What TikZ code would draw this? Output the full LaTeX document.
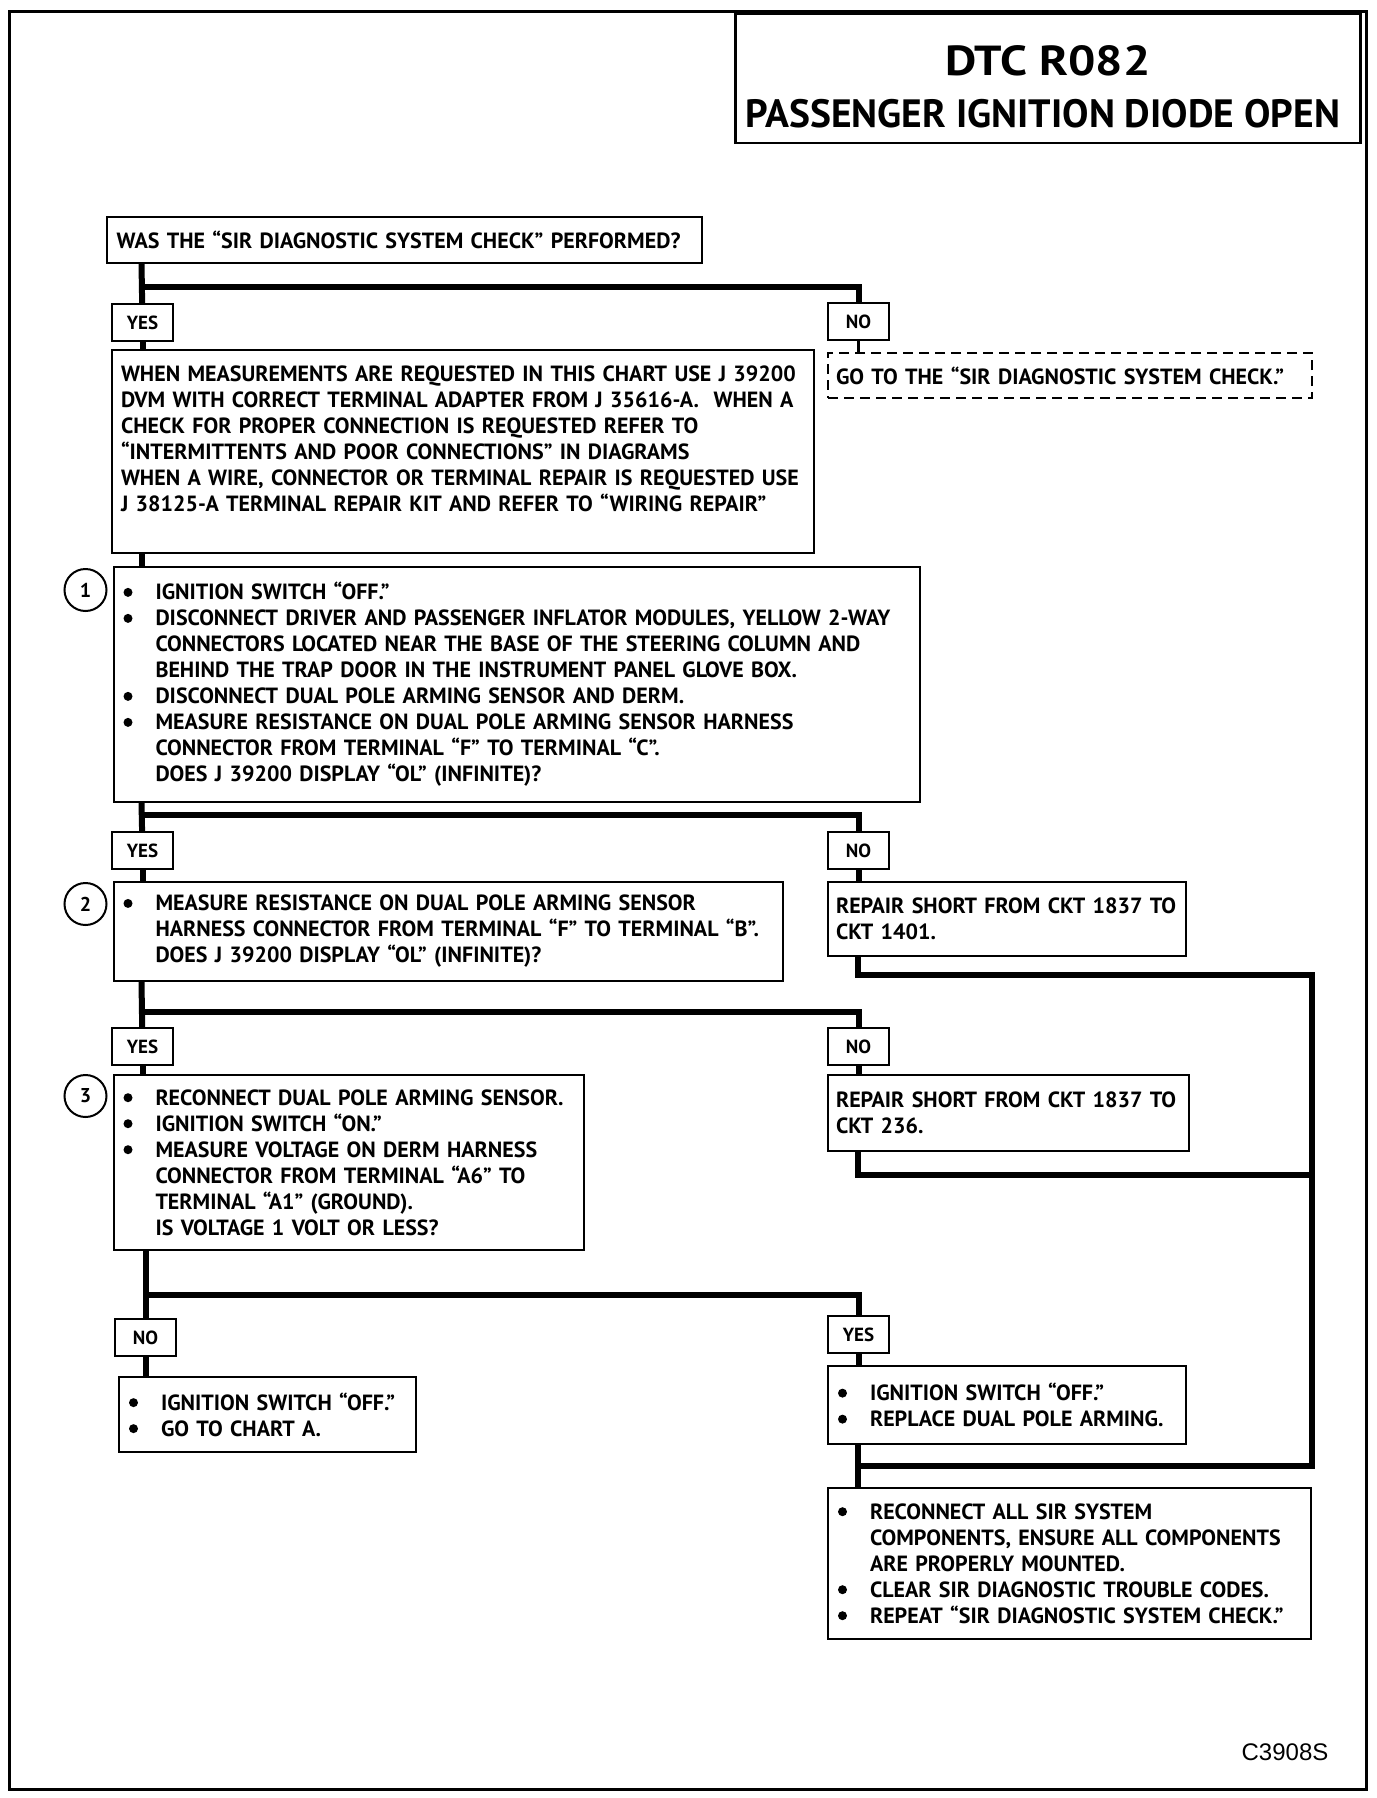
\documentclass[tikz,border=0pt]{standalone}
\usepackage{fontspec}
\setmainfont{PT Sans}
\newfontfamily\widefont{PT Sans}[FakeStretch=1.15]
\newfontfamily\codefont{Liberation Sans}
\usetikzlibrary{positioning}

% bullet lines and their continuation
\newcommand{\bul}{\makebox[32pt][l]{\tikz[baseline=0pt]\fill (3pt,7.5pt) circle (4.5pt);}}
\newcommand{\cont}{\hspace*{32pt}}

\tikzset{
  chart/.style={draw, line width=2pt, rectangle, anchor=north west, align=left,
    inner xsep=10pt, inner ysep=0pt, font=\bfseries\fontsize{22}{26}\selectfont},
  answer/.style={draw, line width=2pt, rectangle, anchor=north west,
    minimum width=61pt, minimum height=37pt, inner sep=0pt,
    font=\bfseries\fontsize{19}{19}\selectfont},
  stepnum/.style={draw, circle, line width=2pt, minimum size=42pt, inner sep=0pt,
    font=\bfseries\fontsize{20}{20}\selectfont},
  flow/.style={line width=6pt},
}

\begin{document}
\begin{tikzpicture}[x=1pt,y=-1pt]
  \useasboundingbox (0,0) rectangle (1376,1798);
  \draw[line width=3pt] (9,12) rectangle (1366,1789);

  % title
  \node[draw, line width=2.5pt, anchor=north west, minimum width=625pt, minimum height=129pt] (title) at (734,13) {};
  \node[font=\widefont\bfseries\fontsize{42}{42}\selectfont] (dtc) at (1048,61) {DTC R082};
  \node[font=\bfseries\fontsize{39.5}{40}\selectfont] (name) at (1043,114) {PASSENGER IGNITION DIODE OPEN};

  % columns and split points
  \coordinate (colL) at (141.5,0);
  \coordinate (colR) at (857.5,0);
  \coordinate (bus) at (1312,0);
  \coordinate (s1) at (0,287);
  \coordinate (s2) at (0,815);
  \coordinate (s3) at (0,1012);
  \coordinate (s4) at (0,1295);
  \coordinate (r1) at (0,975);
  \coordinate (r2) at (0,1175);
  \coordinate (r3) at (0,1466);

  \node[chart, text width=575.5pt, minimum height=46pt] (check) at (105.5,216)
    {WAS THE “SIR DIAGNOSTIC SYSTEM CHECK” PERFORMED?};

  \node[answer] (yes1) at (111,303) {YES};
  \node[answer] (no1) at (827,302) {NO};

  \node[chart, inner xsep=9pt, text width=684pt, minimum height=203pt] (info) at (111,349)
    {WHEN MEASUREMENTS ARE REQUESTED IN THIS CHART USE J 39200\\
     DVM WITH CORRECT TERMINAL ADAPTER FROM J 35616-A.\ \ WHEN A\\
     CHECK FOR PROPER CONNECTION IS REQUESTED REFER TO\\
     “INTERMITTENTS AND POOR CONNECTIONS” IN DIAGRAMS\\
     WHEN A WIRE, CONNECTOR OR TERMINAL REPAIR IS REQUESTED USE\\
     J 38125-A TERMINAL REPAIR KIT AND REFER TO “WIRING REPAIR”\\
     \mbox{}};
  \node[chart, dashed, dash pattern=on 10pt off 6pt, inner xsep=8pt, text width=468pt, minimum height=45pt] (goback) at (827,352)
    {GO TO THE “SIR DIAGNOSTIC SYSTEM CHECK.”};

  % step 1
  \node[chart, text width=786.5pt, minimum height=235pt] (step1) at (112.5,566)
    {\bul IGNITION SWITCH “OFF.”\\
     \bul DISCONNECT DRIVER AND PASSENGER INFLATOR MODULES, YELLOW 2-WAY\\
     \cont CONNECTORS LOCATED NEAR THE BASE OF THE STEERING COLUMN AND\\
     \cont BEHIND THE TRAP DOOR IN THE INSTRUMENT PANEL GLOVE BOX.\\
     \bul DISCONNECT DUAL POLE ARMING SENSOR AND DERM.\\
     \bul MEASURE RESISTANCE ON DUAL POLE ARMING SENSOR HARNESS\\
     \cont CONNECTOR FROM TERMINAL “F” TO TERMINAL “C”.\\
     \cont DOES J 39200 DISPLAY “OL” (INFINITE)?};
  \node[stepnum] (n1) at (85.5,590) {1};

  \node[answer] (yes2) at (111,831) {YES};
  \node[answer] (no2) at (827,831) {NO};

  % step 2
  \node[chart, text width=649.5pt, minimum height=99pt] (step2) at (112.5,881)
    {\bul MEASURE RESISTANCE ON DUAL POLE ARMING SENSOR\\
     \cont HARNESS CONNECTOR FROM TERMINAL “F” TO TERMINAL “B”.\\
     \cont DOES J 39200 DISPLAY “OL” (INFINITE)?};
  \node[stepnum] (n2) at (85.5,904) {2};
  \node[chart, inner xsep=8pt, text width=342pt, minimum height=74pt] (short1) at (827,881)
    {REPAIR SHORT FROM CKT 1837 TO\\CKT 1401.};

  \node[answer] (yes3) at (111,1027) {YES};
  \node[answer] (no3) at (827,1027) {NO};

  % step 3
  \node[chart, text width=450.5pt, minimum height=175pt] (step3) at (112.5,1074)
    {\bul RECONNECT DUAL POLE ARMING SENSOR.\\
     \bul IGNITION SWITCH “ON.”\\
     \bul MEASURE VOLTAGE ON DERM HARNESS\\
     \cont CONNECTOR FROM TERMINAL “A6” TO\\
     \cont TERMINAL “A1” (GROUND).\\
     \cont IS VOLTAGE 1 VOLT OR LESS?};
  \node[stepnum] (n3) at (85.5,1096) {3};
  \node[chart, inner xsep=8pt, text width=345pt, minimum height=76pt] (short2) at (827,1074)
    {REPAIR SHORT FROM CKT 1837 TO\\CKT 236.};

  \node[answer] (no4) at (114,1318) {NO};
  \node[answer] (yes4) at (827,1315) {YES};

  \node[chart, text width=277pt, minimum height=75pt] (chartA) at (118,1376)
    {\bul IGNITION SWITCH “OFF.”\\
     \bul GO TO CHART A.};
  \node[chart, text width=338pt, minimum height=78pt] (replace) at (827,1365)
    {\bul IGNITION SWITCH “OFF.”\\
     \bul REPLACE DUAL POLE ARMING.};
  \node[chart, text width=463pt, minimum height=151pt] (final) at (827,1487)
    {\bul RECONNECT ALL SIR SYSTEM\\
     \cont COMPONENTS, ENSURE ALL COMPONENTS\\
     \cont ARE PROPERLY MOUNTED.\\
     \bul CLEAR SIR DIAGNOSTIC TROUBLE CODES.\\
     \bul REPEAT “SIR DIAGNOSTIC SYSTEM CHECK.”};

  \node[font=\codefont\fontsize{24}{24}\selectfont] (code) at (1285,1752) {C3908S};

  % connectors
  \draw[flow] (check.south -| colL) -- (yes1);
  \draw[flow] (colL |- s1) -| (no1);
  \draw[flow] (yes1.south) -- (info.north -| yes1);
  \draw[flow, line width=3pt] (no1.south) -- (goback.north -| no1);
  \draw[flow] (info.south -| colL) -- (step1.north -| colL);

  \draw[flow] (step1.south -| colL) -- (yes2);
  \draw[flow] (colL |- s2) -| (no2);
  \draw[flow] (yes2.south) -- (step2.north -| yes2);
  \draw[flow] (no2.south) -- (short1.north -| no2);

  \draw[flow] (step2.south -| colL) -- (yes3);
  \draw[flow] (colL |- s3) -| (no3);
  \draw[flow] (yes3.south) -- (step3.north -| yes3);
  \draw[flow] (no3.south) -- (short2.north -| no3);

  \draw[flow] (step3.south -| no4) -- (no4);
  \draw[flow] (no4 |- s4) -| (yes4);
  \draw[flow] (no4.south) -- (chartA.north -| no4);
  \draw[flow] (yes4.south) -- (replace.north -| yes4);

  \draw[flow] (short1.south -| colR) |- (bus |- r1) -- (bus |- r3) -- (colR |- r3);
  \draw[flow] (short2.south -| colR) |- (bus |- r2);
  \draw[flow] (replace.south -| colR) -- (final.north -| colR);
\end{tikzpicture}
\end{document}
